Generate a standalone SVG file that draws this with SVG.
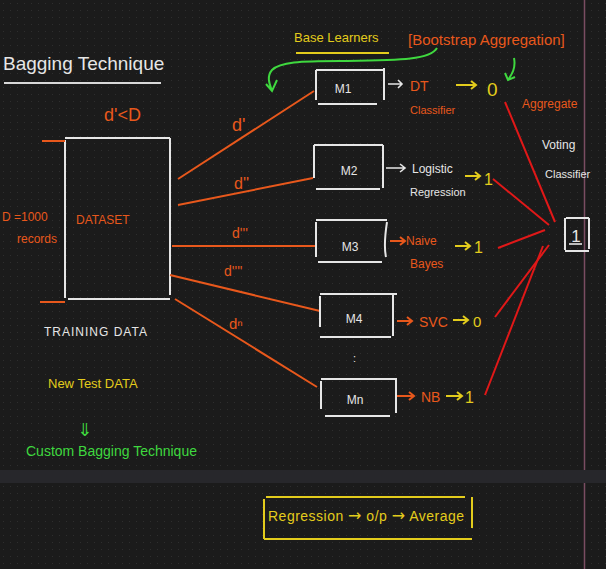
<svg xmlns="http://www.w3.org/2000/svg" width="606" height="569" viewBox="0 0 606 569">
<style>
text{font-family:"Liberation Sans","DejaVu Sans",sans-serif}
.w{fill:#e6e6e6}.o{fill:#e8581c}.y{fill:#e3cc1c}.g{fill:#3fd83f}
.box{fill:none;stroke:#e6e6e6;stroke-width:2}
.ol{stroke:#e8581c;stroke-width:2;fill:none}
.rl{stroke:#e01818;stroke-width:2;fill:none}
.yl{stroke:#e3cc1c;stroke-width:2;fill:none}
.gl{stroke:#3fd83f;stroke-width:2;fill:none}
.wl{stroke:#e6e6e6;stroke-width:1.6;fill:none}
.ar{font-family:"DejaVu Sans",sans-serif}
</style>
<defs>
<pattern id="dots" width="7" height="7" patternUnits="userSpaceOnUse">
<rect x="3" y="3" width="1" height="1" fill="#2e2e2e"/>
</pattern>
</defs>
<rect width="606" height="569" fill="#1b1b1b"/>
<rect width="606" height="569" fill="url(#dots)"/>
<rect x="0" y="470" width="606" height="13" fill="#27272b"/>
<line x1="584.5" y1="0" x2="584.5" y2="470" stroke="#7a4d62" stroke-width="1.5"/>
<line x1="584.5" y1="483" x2="584.5" y2="569" stroke="#7a4d62" stroke-width="1.5"/>

<g id="title">
<text x="3" y="70" class="w" font-size="19">Bagging Technique</text>
<line x1="4" y1="83" x2="161" y2="83" stroke="#d8d8d8" stroke-width="2"/>
</g>
<text x="104" y="121" class="o" font-size="18">d'&lt;D</text>

<g id="dataset">
<path class="box" d="M65 138H170M65 140V298M170 138V295M68 299H170"/>
<path class="ol" d="M42 141H65M40 302H65"/>
<text x="2" y="221" class="o" font-size="12">D =1000</text>
<text x="17" y="243" class="o" font-size="12">records</text>
<text x="76" y="224" class="o" font-size="12">DATASET</text>
<text x="44" y="336" class="w" font-size="12" letter-spacing="1">TRAINING DATA</text>
</g>

<text x="48" y="388" class="y" font-size="13">New Test DATA</text>
<text x="77" y="436" class="g ar" font-size="18">⇓</text>
<text x="26" y="456" class="g" font-size="14">Custom Bagging Technique</text>

<g id="header">
<text x="294" y="42" class="y" font-size="13">Base Learners</text>
<line x1="296" y1="53" x2="389" y2="53" class="yl"/>
<text x="408" y="45" class="o" font-size="15">[Bootstrap Aggregation]</text>
<path class="gl" d="M437 48C430 60 400 60 340 61C300 61 280 62 272 70C266 77 270 85 272 91M266 84L272 91L277 80"/>
<path class="gl" d="M514 58C516 68 512 74 508 80M505 73L508 80L515 77"/>
<text x="522" y="108" class="o" font-size="12">Aggregate</text>
</g>

<g id="connectors">
<line class="ol" x1="178" y1="179" x2="314" y2="91"/>
<line class="ol" x1="178" y1="205" x2="313" y2="178"/>
<line class="ol" x1="172" y1="246" x2="315" y2="246"/>
<line class="ol" x1="170" y1="275" x2="320" y2="311"/>
<line class="ol" x1="175" y1="299" x2="317" y2="387"/>
<line class="rl" x1="505" y1="102" x2="555" y2="222"/>
<line class="rl" x1="493" y1="179" x2="549" y2="225"/>
<line class="rl" x1="498" y1="248" x2="545" y2="230"/>
<line class="rl" x1="495" y1="317" x2="549" y2="245"/>
<line class="rl" x1="485" y1="395" x2="543" y2="246"/>
<path class="wl" d="M388 84H402M398 80L402 84L398 88"/>
<path class="yl" d="M456 85H476M471 81L476 85L471 89"/>
<path class="wl" d="M386 168H405M400 164L405 168L400 172"/>
<path class="yl" d="M465 176H480M475 172L480 176L475 180"/>
<path class="ol" d="M390 241H405M400 237L405 241L400 245" stroke-width="1.6"/>
<path class="yl" d="M455 246H470M465 242L470 246L465 250"/>
<path class="ol" d="M397 321H412M407 317L412 321L407 325" stroke-width="1.6"/>
<path class="yl" d="M453 320H468M463 316L468 320L463 324"/>
<path class="ol" d="M397 396H414M409 392L414 396L409 400" stroke-width="1.6"/>
<path class="yl" d="M446 396H462M457 392L462 396L457 400"/>
</g>
<text x="232" y="131" class="o" font-size="18">d'</text>
<text x="234" y="189" class="o" font-size="16">d''</text>
<text x="232" y="238" class="o" font-size="14">d'''</text>
<text x="224" y="276" class="o" font-size="14">d''''</text>
<text x="229" y="329" class="o" font-size="15">dⁿ</text>

<g id="m1">
<path class="box" d="M316 70H383M316 70V100M318 104H377M384 68V100"/>
<text x="343" y="93" class="w" font-size="12" text-anchor="middle">M1</text>
<text x="410" y="91" class="o" font-size="14">DT</text>
<text x="410" y="114" class="o" font-size="11">Classifier</text>
<text x="487" y="96" class="y" font-size="19">0</text>
</g>

<g id="m2">
<path class="box" d="M314 145H383M314 145V178M316 189H380M383 145V188"/>
<text x="349" y="175" class="w" font-size="12" text-anchor="middle">M2</text>
<text x="412" y="173" class="w" font-size="12">Logistic</text>
<text x="410" y="196" class="w" font-size="11">Regression</text>
<text x="484" y="185" class="y" font-size="16">1</text>
</g>

<g id="m3">
<path class="box" d="M316 220H387M316 222V257M318 262H382M387 222C385 235 384 248 386 257"/>
<text x="350" y="251" class="w" font-size="12" text-anchor="middle">M3</text>
<text x="406" y="245" class="o" font-size="12">Naive</text>
<text x="410" y="268" class="o" font-size="12">Bayes</text>
<text x="474" y="253" class="y" font-size="16">1</text>
</g>

<g id="m4">
<path class="box" d="M320 294H397M320 296V327M320 337H391M393 294V336"/>
<text x="354" y="323" class="w" font-size="12" text-anchor="middle">M4</text>
<text x="419" y="327" class="o" font-size="14">SVC</text>
<text x="473" y="327" class="y" font-size="15">0</text>
</g>

<text x="353" y="362" class="w" font-size="11">:</text>

<g id="mn">
<path class="box" d="M321 379H397M321 381V409M325 416H390M396 379V413"/>
<text x="355" y="404" class="w" font-size="12" text-anchor="middle">Mn</text>
<text x="421" y="402" class="o" font-size="14">NB</text>
<text x="465" y="403" class="y" font-size="16">1</text>
</g>

<g id="vote">
<text x="542" y="149" class="w" font-size="12">Voting</text>
<text x="545" y="178" class="w" font-size="11">Classifier</text>
<path class="box" d="M566 218H589M565 218V250M565 251H589M589 218V249" stroke-width="1.6"/>
<text x="576" y="242" class="w" font-size="17" text-anchor="middle">1</text>
<line x1="569" y1="244" x2="582" y2="244" class="wl"/>
</g>

<g id="regression">
<path class="yl" d="M266 497H465M264 499V539M264 539H472M472 497V528"/>
<text x="268" y="521" class="y" font-size="14" textLength="196" lengthAdjust="spacing">Regression <tspan class="ar" font-size="16">→</tspan> o/p <tspan class="ar" font-size="16">→</tspan> Average</text>
</g>
</svg>
